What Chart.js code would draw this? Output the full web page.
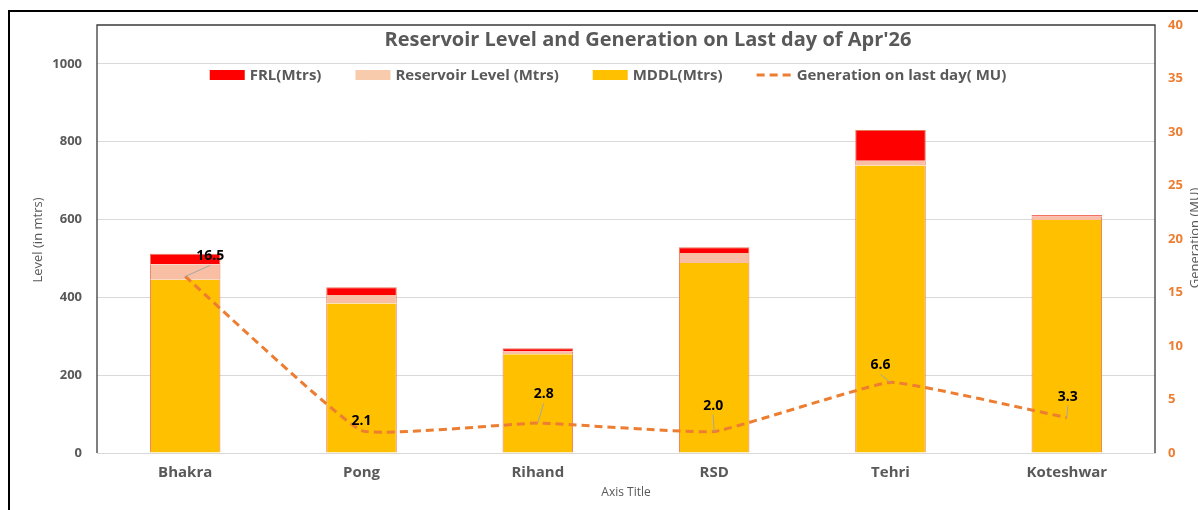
<!DOCTYPE html>
<html>
<head>
<meta charset="utf-8">
<title>Reservoir Level and Generation</title>
<script src="https://cdn.jsdelivr.net/npm/chart.js@4.4.0/dist/chart.umd.min.js"></script>
<style>
  body { margin: 0; background: #fff; }
  #wrap { width: 1198px; height: 510px; }
</style>
</head>
<body>
<div id="wrap"><canvas id="chart" width="1198" height="510"></canvas></div>
<script>
// values
const stations = ['Bhakra', 'Pong', 'Rihand', 'RSD', 'Tehri', 'Koteshwar'];
const frlLevel = [512, 426, 269, 529, 830, 612];
const reservoirLevel = [485, 406, 261, 514, 751, 608];
const mddlLevel = [445, 384, 254, 488, 739, 599];
const generationMU = [16.5, 2.1, 2.8, 2.0, 6.6, 3.3];
const levelTicks = [0, 200, 400, 600, 800, 1000];

// where each generation label sits relative to its point (px)
const labelOffsets = [[25, -20], [0, -10], [6, -29], [-1, -26], [-10, -17], [1, -21]];

const FONT = "'Open Sans', 'Noto Sans', sans-serif";
const GREY = '#595959';
const ORANGE = '#ED7D31';

// stacked segments for the bar part
const mddlPart = mddlLevel;
const resPart = reservoirLevel.map((v, i) => v - mddlLevel[i]);
const frlPart = frlLevel.map((v, i) => v - reservoirLevel[i]);

const frame = {
    id: 'frame',
    beforeDraw(chart) {
        const ctx = chart.ctx;
        ctx.save();
        ctx.fillStyle = '#fff';
        ctx.fillRect(0, 0, chart.width, chart.height);
        ctx.restore();
    },
    afterDraw(chart) {
        const ctx = chart.ctx;
        const a = chart.chartArea;
        ctx.save();

        // outer border
        ctx.strokeStyle = '#000';
        ctx.lineWidth = 2;
        ctx.beginPath();
        ctx.moveTo(9, chart.height + 5);
        ctx.lineTo(9, 11);
        ctx.lineTo(chart.width + 5, 11);
        ctx.stroke();

        // plot border (left, top, right)
        ctx.strokeStyle = '#3a3a3a';
        ctx.lineWidth = 1.3;
        ctx.beginPath();
        ctx.moveTo(a.left, a.bottom);
        ctx.lineTo(a.left, a.top);
        ctx.lineTo(a.right, a.top);
        ctx.lineTo(a.right, a.bottom);
        ctx.stroke();

        // title
        ctx.fillStyle = GREY;
        ctx.textAlign = 'center';
        ctx.textBaseline = 'middle';
        ctx.font = 'bold 20px ' + FONT;
        ctx.fillText("Reservoir Level and Generation on Last day of Apr'26", 648, 40);

        // legend
        ctx.font = 'bold 15px ' + FONT;
        const items = [
            { text: 'FRL(Mtrs)', color: '#FF0000' },
            { text: 'Reservoir Level (Mtrs)', color: '#F8CBAD' },
            { text: 'MDDL(Mtrs)', color: '#FFC000' },
            { text: 'Generation on last day( MU)', color: ORANGE, line: true }
        ];
        const sw = 35, gapSw = 5, gapItem = 34;
        let total = 0;
        items.forEach(it => { it.w = ctx.measureText(it.text).width; total += sw + gapSw + it.w; });
        total += gapItem * (items.length - 1);
        let x = 608 - total / 2;
        const ly = 75;
        items.forEach(it => {
            if (it.line) {
                ctx.strokeStyle = it.color;
                ctx.lineWidth = 3;
                ctx.setLineDash([8, 5]);
                ctx.beginPath();
                ctx.moveTo(x, ly);
                ctx.lineTo(x + sw, ly);
                ctx.stroke();
                ctx.setLineDash([]);
            } else {
                ctx.fillStyle = it.color;
                ctx.fillRect(x, ly - 5, sw, 10);
            }
            ctx.fillStyle = GREY;
            ctx.textAlign = 'left';
            ctx.fillText(it.text, x + sw + gapSw, ly + 1);
            x += sw + gapSw + it.w + gapItem;
        });

        // axis titles
        ctx.font = '12px ' + FONT;
        ctx.fillStyle = GREY;
        ctx.textAlign = 'center';
        ctx.fillText('Axis Title', (a.left + a.right) / 2, 493);
        ctx.font = '13px ' + FONT;
        ctx.save();
        ctx.translate(38, 240);
        ctx.rotate(-Math.PI / 2);
        ctx.fillText('Level (in mtrs)', 0, 0);
        ctx.restore();
        ctx.save();
        ctx.translate(1195, 238);
        ctx.rotate(-Math.PI / 2);
        ctx.fillText('Generation (MU)', 0, 0);
        ctx.restore();

        // generation data labels with leader lines
        const meta = chart.getDatasetMeta(3);
        ctx.font = 'bold 14px ' + FONT;
        meta.data.forEach((pt, i) => {
            const [dx, dy] = labelOffsets[i];
            const tx = pt.x + dx, ty = pt.y + dy;
            if (Math.hypot(dx, dy) > 14) {
                ctx.strokeStyle = '#A6A6A6';
                ctx.lineWidth = 1;
                ctx.beginPath();
                ctx.moveTo(pt.x, pt.y);
                ctx.lineTo(tx, ty + 9);
                ctx.stroke();
            }
            ctx.fillStyle = '#000';
            ctx.textAlign = 'center';
            ctx.fillText(generationMU[i].toFixed(1), tx, ty);
        });
        ctx.restore();
    }
};

const barBorder = '#E8775A';

new Chart(document.getElementById('chart'), {
    data: {
        labels: stations,
        datasets: [
            {
                type: 'bar', label: 'MDDL(Mtrs)', data: mddlPart, yAxisID: 'y',
                backgroundColor: '#FFC000', borderColor: barBorder,
                borderWidth: { left: 1, right: 1, top: 0, bottom: 0 }, borderSkipped: false,
                stack: 'lvl', order: 2
            },
            {
                type: 'bar', label: 'Reservoir Level (Mtrs)', data: resPart, yAxisID: 'y',
                backgroundColor: '#F8BFA5', borderColor: barBorder,
                borderWidth: { left: 1, right: 1, top: 0, bottom: 0 }, borderSkipped: false,
                stack: 'lvl', order: 2
            },
            {
                type: 'bar', label: 'FRL(Mtrs)', data: frlPart, yAxisID: 'y',
                backgroundColor: '#FF0000', borderColor: barBorder,
                borderWidth: { left: 1, right: 1, top: 1, bottom: 0 }, borderSkipped: false,
                stack: 'lvl', order: 2
            },
            {
                type: 'line', label: 'Generation on last day( MU)', data: generationMU, yAxisID: 'y1',
                borderColor: ORANGE, borderWidth: 3, borderDash: [8, 5], tension: 0.1,
                pointRadius: 0, fill: false, order: 0
            }
        ]
    },
    options: {
        responsive: false,
        animation: false,
        layout: { padding: { top: 25, left: 0, right: 0, bottom: 0 } },
        plugins: { legend: { display: false }, title: { display: false }, tooltip: { enabled: false } },
        datasets: { bar: { categoryPercentage: 1, barPercentage: 0.4 } },
        scales: {
            x: {
                stacked: true,
                grid: { display: false, drawTicks: false },
                border: { color: '#D9D9D9', width: 1 },
                ticks: { color: GREY, font: { family: FONT, size: 15, weight: 'bold' }, padding: 11 },
                afterFit(s) { s.height = 57; }
            },
            y: {
                position: 'left', stacked: true, min: 0, max: 1100,
                afterBuildTicks(s) { s.ticks = levelTicks.map(v => ({ value: v })); },
                grid: { color: '#D9D9D9', drawTicks: false },
                border: { display: false },
                ticks: {
                    color: GREY, font: { family: FONT, size: 13, weight: 'bold' }, padding: 15,
                    callback: v => String(v)
                },
                afterFit(s) { s.width = 97; }
            },
            y1: {
                position: 'right', min: 0, max: 40,
                ticks: { stepSize: 5, color: ORANGE, font: { family: FONT, size: 13, weight: 'bold' }, padding: 13 },
                grid: { display: false, drawTicks: false },
                border: { display: false },
                afterFit(s) { s.width = 43; }
            }
        }
    },
    plugins: [frame]
});
</script>
</body>
</html>
